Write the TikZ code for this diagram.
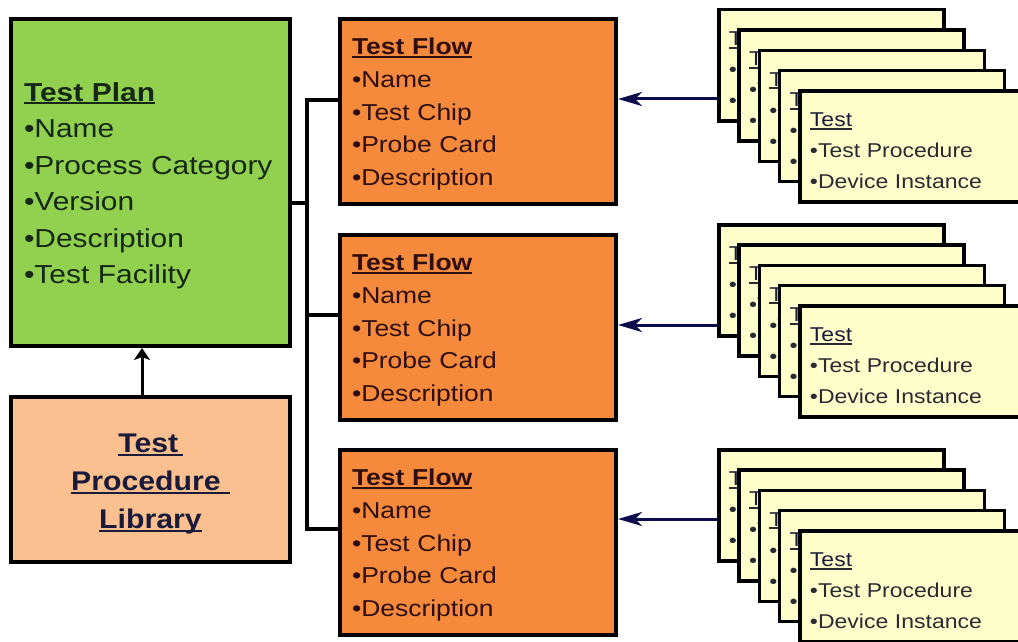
\documentclass[tikz,border=0pt]{standalone}
\usepackage{fontspec}
\setmainfont{Liberation Sans}
\newfontfamily\widefont{Liberation Sans}[FakeStretch=1.15]
\newfontfamily\libfont{Liberation Sans}[FakeStretch=1.12]
\usetikzlibrary{arrows.meta}
\definecolor{plangreen}{HTML}{92D050}
\definecolor{flowor}{HTML}{F68A3C}
\definecolor{libpeach}{HTML}{FAC08F}
\definecolor{cardyel}{HTML}{FFFFCC}
\definecolor{navy}{HTML}{0D0D4D}
\definecolor{plantext}{HTML}{142814}
\definecolor{flowtext}{HTML}{2E0E10}
\definecolor{libtext}{HTML}{1A1A3A}
\definecolor{cardtext}{HTML}{2A2A33}
\newcommand\myul[2][3pt]{\leavevmode\setbox0\hbox{#2}\rlap{\rule[-#1]{\wd0}{1.8pt}}\box0}
\newcommand\tallstrut[1]{\rule{0pt}{#1}}
\tikzset{
  boxbase/.style={draw=black, line width=4pt, anchor=north west, inner ysep=0pt},
  planbox/.style={boxbase, fill=plangreen, minimum width=279pt, minimum height=327pt,
    inner xsep=13pt, text width=253pt, align=left, text=plantext,
    font=\widefont\fontsize{26}{36.5}\selectfont},
  flowbox/.style={boxbase, fill=flowor, minimum width=276pt, minimum height=185pt,
    inner xsep=12pt, text width=252pt, align=left, text=flowtext,
    font=\widefont\fontsize{23}{32.8}\selectfont},
  libbox/.style={boxbase, fill=libpeach, minimum width=279pt, minimum height=165pt,
    inner xsep=10pt, text width=259pt, align=center, text=libtext,
    font=\libfont\bfseries\fontsize{27}{38}\selectfont},
  cardbox/.style={boxbase, fill=cardyel, minimum width=225pt, minimum height=111pt,
    line width=3.5pt, inner xsep=10pt, text width=205pt, align=left, text=cardtext,
    font=\widefont\fontsize{20}{31}\selectfont},
  conn/.style={draw=black, line width=3.5pt},
  tarrow/.style={draw=navy, line width=3pt, -{Stealth[length=24pt,width=14pt,inset=7pt]}},
  larrow/.style={draw=black, line width=3pt, -{Stealth[length=12pt,width=16pt,inset=3pt]}}
}
\begin{document}
\begin{tikzpicture}[x=1pt, y=-1pt]
\useasboundingbox (0,0) rectangle (1018,642);

% Test plan
\node[planbox] (plan) at (9,17) {\tallstrut{25pt}\myul{\bfseries Test Plan}\\
  •Name\\ •Process Category\\ •Version\\ •Description\\ •Test Facility};

% Library
\node[libbox] (lib) at (9,395) {\tallstrut{28pt}\myul{Test\,}\\ \myul{Procedure\ }\\ \myul{Library}};

% Test flows
\foreach \n/\y in {1/17, 2/233, 3/448} {
  \node[flowbox] (flow\n) at (338,\y) {\tallstrut{22pt}\myul{\bfseries Test Flow}\\
    •Name\\ •Test Chip\\ •Probe Card\\ •Description};
}

% Test card stacks
\foreach \s/\y in {1/8, 2/223, 3/448} {
  \foreach \i in {0,...,4} {
    \node[cardbox] (s\s c\i) at ({717+20.3*\i},{\y+20.3*\i})
      {\tallstrut{23pt}\myul{\textcolor{libtext}{Test}}\\ •Test Procedure\\ •Device Instance};
  }
}

% connectors
\coordinate (j) at (307,203);
\coordinate (b1) at (307,100);
\coordinate (b2) at (307,315);
\coordinate (b3) at (307,529);
\draw[conn] (plan.east |- j) -- (j);
\draw[conn] (flow1.west |- b1) -- (b1) -- (b3) -- (flow3.west |- b3);
\draw[conn] (b2) -- (flow2.west |- b2);

\coordinate (xl) at (142,0);
\draw[larrow] (lib.north -| xl) -- (plan.south -| xl);

\coordinate (ya1) at (0,99);
\coordinate (ya2) at (0,325);
\coordinate (ya3) at (0,519);
\draw[tarrow] (s1c0.west |- ya1) -- (flow1.east |- ya1);
\draw[tarrow] (s2c0.west |- ya2) -- (flow2.east |- ya2);
\draw[tarrow] (s3c0.west |- ya3) -- (flow3.east |- ya3);
\end{tikzpicture}
\end{document}
